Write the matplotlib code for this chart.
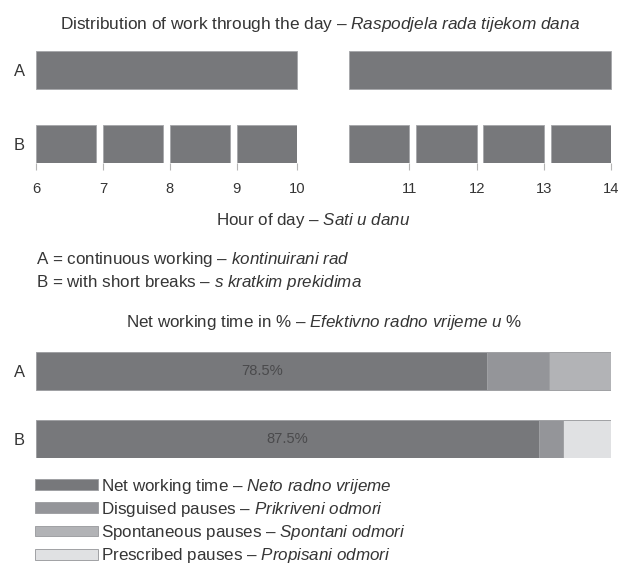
import matplotlib
matplotlib.use("Agg")
import matplotlib.pyplot as plt
import matplotlib.font_manager as fm
from matplotlib.patches import Patch

# fonts: narrow sans if there is one
names = {f.name for f in fm.fontManager.ttflist}
if "Liberation Sans Narrow" in names:
    fam = "Liberation Sans Narrow"
    k = 1.0
else:
    fam = "Liberation Sans"
    k = 0.82
plt.rcParams["font.family"] = fam
plt.rcParams["mathtext.fontset"] = "custom"
plt.rcParams["mathtext.rm"] = fam
plt.rcParams["mathtext.it"] = fam + ":italic"

txt = "#353535"

# data
rows = ["A", "B"]
# continuous working (A): start, length
a_left = [(6, 3.9)]
a_right = [(10.1, 3.9)]
# short breaks (B): start, length
b_left = [(6, 0.9), (7, 0.9), (8, 0.9), (9, 0.9)]
b_right = [(10.1, 0.9), (11.1, 0.9), (12.1, 0.9), (13.1, 0.9)]
left_ticks = [6, 7, 8, 9, 9.9]
left_labels = ["6", "7", "8", "9", "10"]
right_ticks = [11, 12, 13, 14]
right_labels = ["11", "12", "13", "14"]

cats = ["Net working time", "Disguised pauses", "Spontaneous pauses", "Prescribed pauses"]
cats_hr = ["Neto radno vrijeme", "Prikriveni odmori", "Spontani odmori", "Propisani odmori"]
share_a = [78.5, 10.75, 10.75, 0.0]
share_b = [87.5, 4.2, 0.0, 8.3]
colors = ["#77787b", "#949599", "#b2b3b6", "#e0e1e3"]

W, H = 620, 566
fig = plt.figure(figsize=(W / 100, H / 100), dpi=100)


def box(x0, y0, x1, y1):
    return [x0 / W, 1 - y1 / H, (x1 - x0) / W, (y1 - y0) / H]


def it(s):
    return r"$\mathit{" + s.replace(" ", r"\ ").replace("%", r"\%") + "}$"


fs = 14.9 * k   # text
fs_t = 15.2 * k  # top title
fs_s = 13.0 * k  # ticks, percent
fs_r = 14.5 * k  # row labels A / B

fig.text(0.516, 1 - 24 / H, "Distribution of work through the day – " + it("Raspodjela rada tijekom dana"),
         ha="center", va="center", fontsize=fs_t, color=txt)

ax1 = fig.add_axes(box(36, 51, 297, 163))
ax2 = fig.add_axes(box(349, 51, 611, 163))
for ax, a_seg, b_seg, tk, tl in [(ax1, a_left, b_left, left_ticks, left_labels),
                                  (ax2, a_right, b_right, right_ticks, right_labels)]:
    ax.broken_barh(a_seg, (-0.255, 0.51), facecolors=colors[0], edgecolor="#a5a6a9", linewidth=0.6)
    ax.broken_barh(b_seg, (1 - 0.255, 0.51), facecolors=colors[0], edgecolor="#a5a6a9", linewidth=0.6)
    ax.set_ylim(1.2515, -0.2515)
    ax.set_xticks(tk)
    ax.set_xticklabels(tl, fontsize=fs_s, color=txt)
    ax.tick_params(axis="x", length=5, width=0.8, color="#b5b5b5", pad=9)
    for s in ax.spines.values():
        s.set_visible(False)
ax1.set_xlim(6, 9.9)
ax2.set_xlim(10.1, 14)
ax1.set_yticks([0, 1])
ax1.set_yticklabels(rows, fontsize=fs_r, color=txt)
ax1.tick_params(axis="y", length=0, pad=8)
ax2.set_yticks([])

fig.text(313 / W, 1 - 221 / H, "Hour of day – " + it("Sati u danu"),
         ha="center", va="center", fontsize=fs, color=txt)
fig.text(36 / W, 1 - 260 / H, "A = continuous working – " + it("kontinuirani rad"),
         ha="left", va="center", fontsize=fs, color=txt)
fig.text(36 / W, 1 - 283 / H, "B = with short breaks – " + it("s kratkim prekidima"),
         ha="left", va="center", fontsize=fs, color=txt)
fig.text(324 / W, 1 - 322 / H, "Net working time in % – " + it("Efektivno radno vrijeme u %"),
         ha="center", va="center", fontsize=fs, color=txt)

ax3 = fig.add_axes(box(36, 352, 611, 458))
lefts = [0.0, 0.0]
for i, c in enumerate(cats):
    vals = [share_a[i], share_b[i]]
    ax3.barh([0, 1], vals, left=lefts, height=0.57, color=colors[i],
             edgecolor="#a0a1a4", linewidth=0.7)
    lefts = [lefts[0] + vals[0], lefts[1] + vals[1]]
for y, v in zip([0, 1], [share_a[0], share_b[0]]):
    ax3.text(v / 2, y, f"{v}%", ha="center", va="center", fontsize=fs_s, color="#4a4a4c")
ax3.set_xlim(0, 100)
ax3.set_ylim(1.285, -0.285)
ax3.set_xticks([])
ax3.set_yticks([0, 1])
ax3.set_yticklabels(rows, fontsize=fs_r, color=txt)
ax3.tick_params(axis="y", length=0, pad=8)
for s in ax3.spines.values():
    s.set_visible(False)

handles = [Patch(facecolor=colors[i], edgecolor="#a0a1a4", linewidth=0.7) for i in range(4)]
labels = [cats[i] + " – " + it(cats_hr[i]) for i in range(4)]
fig.legend(handles, labels, loc="upper left", bbox_to_anchor=(35 / W, 1 - 476.5 / H),
           frameon=False, fontsize=fs, handlelength=3.7, handleheight=0.6,
           handletextpad=0.2, labelspacing=0.25, borderpad=0, borderaxespad=0,
           labelcolor=txt)

fig.savefig("out.png", dpi=100)
